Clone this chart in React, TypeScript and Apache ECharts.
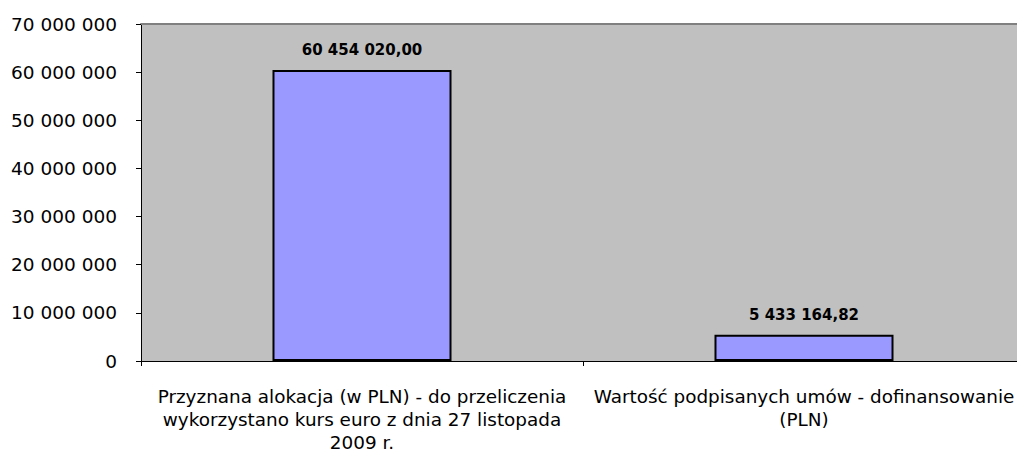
import React, { useEffect, useRef } from "react";
import * as echarts from "echarts";

const categories = [
  "Przyznana alokacja (w PLN) - do przeliczenia\nwykorzystano kurs euro z dnia 27 listopada\n2009 r.",
  "Wartość podpisanych umów - dofinansowanie\n(PLN)",
];
const values = [60454020.0, 5433164.82];
const yMin = 0;
const yMax = 70000000;
const yInterval = 10000000;

const fmtInt = (v: number) =>
  Math.round(v)
    .toString()
    .replace(/\B(?=(\d{3})+(?!\d))/g, " ");
const fmtDec = (v: number) => {
  const [i, d] = v.toFixed(2).split(".");
  return fmtInt(Number(i)) + "," + d;
};

export default function App() {
  const ref = useRef<HTMLDivElement>(null);
  useEffect(() => {
    if (!ref.current) return;
    const chart = echarts.init(ref.current, undefined, { renderer: "svg" });
    const font = "'DejaVu Sans', sans-serif";
    chart.setOption({
      animation: false,
      backgroundColor: "#ffffff",
      grid: {
        left: 141,
        top: 24,
        width: 884,
        bottom: 94,
        outerBoundsMode: "none",
        containLabel: false,
        show: true,
        backgroundColor: "#C0C0C0",
        borderWidth: 0,
      },
      xAxis: [
        {
          type: "category",
          data: categories,
          axisLine: { show: true, lineStyle: { color: "#000000", width: 1 } },
          axisTick: { show: true, length: 5, lineStyle: { color: "#000000" } },
          axisLabel: {
            interval: 0,
            color: "#000000",
            fontFamily: font,
            fontSize: 18.4,
            lineHeight: 23,
            margin: 24,
            align: "center",
          },
        },
        {
          type: "category",
          position: "top",
          data: categories,
          axisLine: { show: true, lineStyle: { color: "#808080", width: 2 } },
          axisTick: { show: false },
          axisLabel: { show: false },
        },
      ],
      yAxis: {
        type: "value",
        min: yMin,
        max: yMax,
        interval: yInterval,
        axisLine: { show: true, lineStyle: { color: "#000000", width: 1 } },
        axisTick: { show: true, length: 5, lineStyle: { color: "#000000" } },
        splitLine: { show: false },
        axisLabel: {
          color: "#000000",
          fontFamily: font,
          fontSize: 18.5,
          margin: 24,
          formatter: (v: number) => fmtInt(v),
        },
      },
      series: [
        {
          type: "bar",
          data: values,
          barCategoryGap: "59.5%",
          itemStyle: { color: "#9999FF", borderColor: "#000000", borderWidth: 2 },
          label: {
            show: true,
            position: "top",
            distance: 12,
            color: "#000000",
            fontFamily: font,
            fontWeight: "bold",
            fontSize: 15,
            formatter: (p: any) => fmtDec(p.value),
          },
        },
      ],
    });
    return () => chart.dispose();
  }, []);
  return (
    <div
      ref={ref}
      style={{ position: "fixed", left: 0, top: 0, width: 1017, height: 455 }}
    />
  );
}
